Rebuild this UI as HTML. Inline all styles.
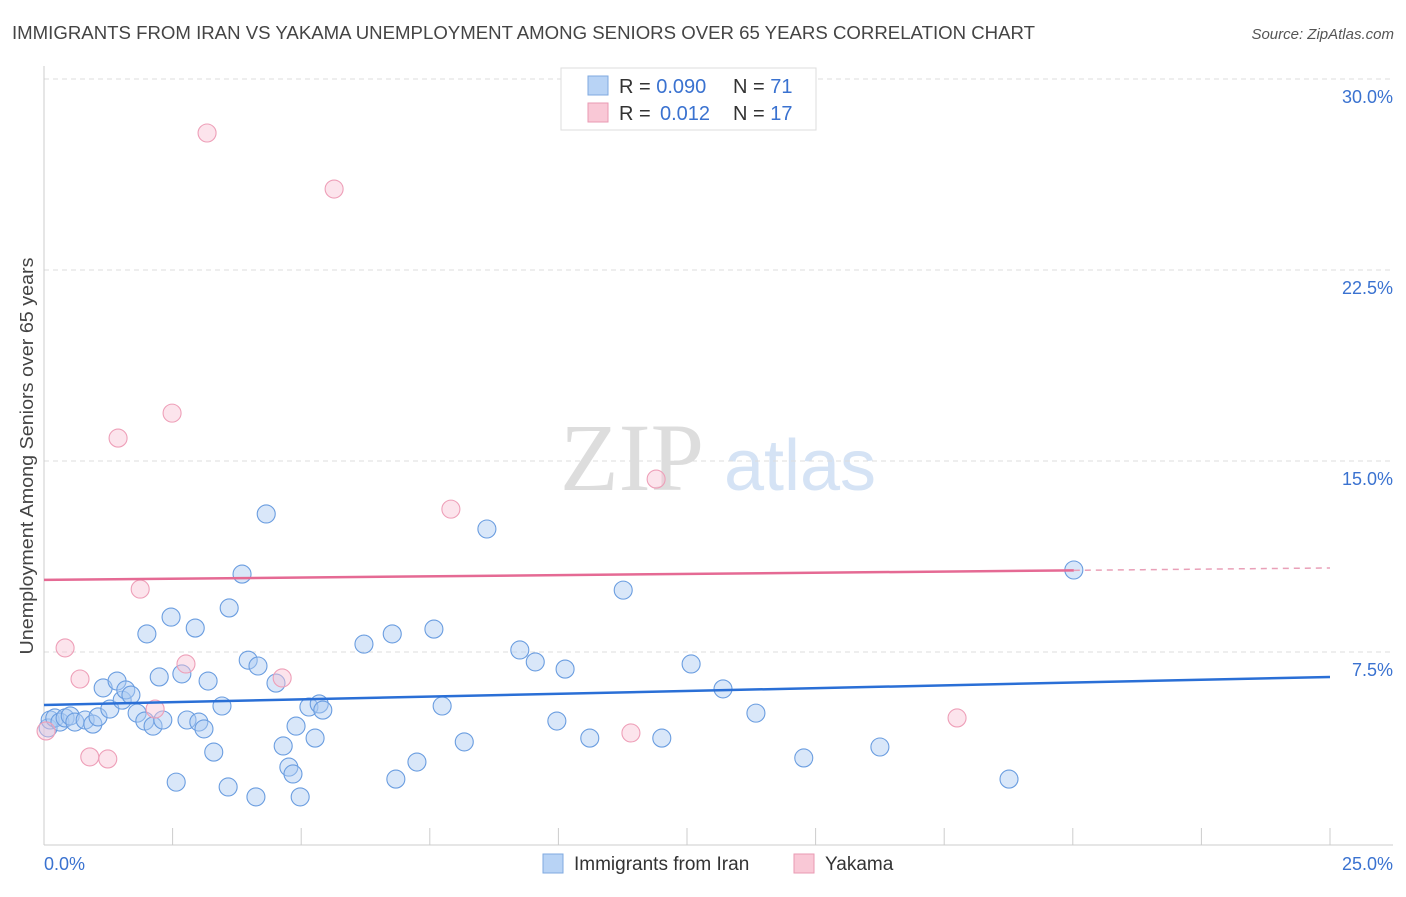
<!DOCTYPE html>
<html><head><meta charset="utf-8"><style>
body{margin:0;background:#fff;font-family:"Liberation Sans",sans-serif;}
</style></head><body>
<svg id="chart" width="1406" height="892" xmlns="http://www.w3.org/2000/svg" font-family="Liberation Sans, sans-serif">
<text x="12" y="39" font-size="18" fill="#444" textLength="1023" lengthAdjust="spacingAndGlyphs">IMMIGRANTS FROM IRAN VS YAKAMA UNEMPLOYMENT AMONG SENIORS OVER 65 YEARS CORRELATION CHART</text>
<text x="1394" y="39" font-size="15" fill="#555" text-anchor="end" font-style="italic">Source: ZipAtlas.com</text>
<text transform="translate(33,456) rotate(-90)" font-size="18" fill="#444" text-anchor="middle" textLength="397" lengthAdjust="spacingAndGlyphs">Unemployment Among Seniors over 65 years</text>
<g>
<text x="632" y="490" font-size="96" fill="#ddd" font-family="Liberation Serif, serif" text-anchor="middle">ZIP</text>
<text x="800" y="490" font-size="72" fill="#d5e3f5" text-anchor="middle">atlas</text>
</g>
<g id="grid"></g>
<g id="axes"></g>
<g id="marks"></g>
<g>
<rect x="561" y="68" width="255" height="62" fill="#fff" stroke="#ddd"/>
<rect x="588" y="76" width="20" height="19" fill="#b8d3f5" stroke="#7fa9e0"/>
<text x="619" y="93" font-size="20" fill="#333">R = <tspan fill="#3a72d0">0.090</tspan><tspan x="733">N = </tspan><tspan fill="#3a72d0">71</tspan></text>
<rect x="588" y="103" width="20" height="19" fill="#f9c8d6" stroke="#e99ab3"/>
<text x="619" y="120" font-size="20" fill="#333">R = <tspan x="660" fill="#3a72d0">0.012</tspan><tspan x="733">N = </tspan><tspan fill="#3a72d0">17</tspan></text>
</g>
<g>
<rect x="543" y="854" width="20" height="19" fill="#b8d3f5" stroke="#7fa9e0"/>
<text x="574" y="870" font-size="19" fill="#333">Immigrants from Iran</text>
<rect x="794" y="854" width="20" height="19" fill="#f9c8d6" stroke="#e99ab3"/>
<text x="825" y="870" font-size="19" fill="#333">Yakama</text>
</g>
</svg>
<script>
const yTicks=[7.5,15,22.5,30];
const yTickLabels=["7.5%","15.0%","22.5%","30.0%"];
const xTicks=[0,2.5,5,7.5,10,12.5,15,17.5,20,22.5,25];
const iranX=[0.08,0.12,0.21,0.31,0.41,0.51,0.60,0.80,0.95,1.05,1.15,1.28,1.42,1.52,1.59,1.69,1.81,1.96,2.00,2.12,2.24,2.31,2.47,2.57,2.68,2.78,2.94,3.01,3.11,3.19,3.30,3.46,3.58,3.60,3.85,3.97,4.12,4.16,4.32,4.51,4.65,4.76,4.84,4.90,4.98,5.15,5.27,5.35,5.42,6.22,6.77,6.84,7.25,7.58,7.74,8.17,8.61,9.25,9.55,9.97,10.13,10.61,11.26,12.01,12.58,13.20,13.84,14.77,16.25,18.76,20.02];
const iranY=[4.52,4.83,4.91,4.75,4.91,4.99,4.75,4.83,4.67,4.95,6.09,5.26,6.36,5.61,6.01,5.81,5.10,4.79,8.21,4.59,6.52,4.83,8.87,2.39,6.64,4.83,8.44,4.75,4.48,6.36,3.57,5.38,2.20,9.23,10.56,7.18,1.81,6.95,12.92,6.28,3.81,2.98,2.71,4.59,1.81,5.34,4.12,5.46,5.22,7.81,8.21,2.51,3.18,8.40,5.38,3.97,12.33,7.58,7.11,4.79,6.83,4.12,9.93,4.12,7.03,6.05,5.10,3.34,3.77,2.51,10.72];
const yakX=[0.04,0.41,0.70,0.89,1.24,1.44,1.87,2.16,2.49,2.76,3.17,4.63,5.64,7.91,11.41,11.90,17.75];
const yakY=[4.40,7.66,6.44,3.38,3.30,15.90,9.97,5.26,16.88,7.03,27.88,6.48,25.68,13.11,4.32,14.29,4.91];
const iranTrend=[5.42,6.52];
const yakTrend=[10.33,10.80];
const yakTrendSolidEnd=20.02;

const NS="http://www.w3.org/2000/svg";
const X0=44,X1=1330,Y0=843,Y30=79;
const xs=v=>X0+(X1-X0)*v/25;
const ys=v=>Y0-(Y0-Y30)*v/30;
function mk(tag,attrs,parent){const e=document.createElementNS(NS,tag);for(const k in attrs)e.setAttribute(k,attrs[k]);parent.appendChild(e);return e;}
const grid=document.getElementById('grid'),axes=document.getElementById('axes'),marks=document.getElementById('marks');
yTicks.forEach((t,i)=>{
  const l=mk('line',{x1:X0,x2:1393,y1:ys(t),y2:ys(t),stroke:'#ddd','stroke-dasharray':'5,4'},grid);
  
  
  const tx=mk('text',{x:1393,y:ys(t)+24,'font-size':18,fill:'#3a72d0','text-anchor':'end'},axes);
  tx.textContent=yTickLabels[i];
  
  
});
const ax=mk('line',{x1:X0,x2:X0,y1:66,y2:845,stroke:'#ccc'},axes);


const bx=mk('line',{x1:X0,x2:1393,y1:845,y2:845,stroke:'#ccc'},axes);


xTicks.forEach(t=>{
  const l=mk('line',{x1:xs(t),x2:xs(t),y1:828,y2:845,stroke:'#ccc'},axes);
  
  
});
const xl0=mk('text',{x:44,y:870,'font-size':18,fill:'#3a72d0'},axes);xl0.textContent='0.0%';


const xl1=mk('text',{x:1393,y:870,'font-size':18,fill:'#3a72d0','text-anchor':'end'},axes);xl1.textContent='25.0%';


iranX.forEach((x,i)=>{
  const c=mk('circle',{cx:xs(x),cy:ys(iranY[i]),r:9,fill:'rgba(170,202,242,0.45)',stroke:'#6a9de0','stroke-width':1.1},marks);
  
  
});
yakX.forEach((x,i)=>{
  const c=mk('circle',{cx:xs(x),cy:ys(yakY[i]),r:9,fill:'rgba(248,196,212,0.45)',stroke:'#ee9fb8','stroke-width':1.1},marks);
  
  
});
const yAt=(tr,x)=>tr[0]+(tr[1]-tr[0])*x/25;
const bl=mk('line',{x1:xs(0),y1:ys(iranTrend[0]),x2:xs(25),y2:ys(iranTrend[1]),stroke:'#2a6fd6','stroke-width':2.5},marks);


const pl=mk('line',{x1:xs(0),y1:ys(yakTrend[0]),x2:xs(yakTrendSolidEnd),y2:ys(yAt(yakTrend,yakTrendSolidEnd)),stroke:'#e56a94','stroke-width':2.5},marks);


const pd=mk('line',{x1:xs(yakTrendSolidEnd),y1:ys(yAt(yakTrend,yakTrendSolidEnd)),x2:xs(25),y2:ys(yakTrend[1]),stroke:'#e9a0b8','stroke-width':1.5,'stroke-dasharray':'6,5'},marks);


</script>
</body></html>
